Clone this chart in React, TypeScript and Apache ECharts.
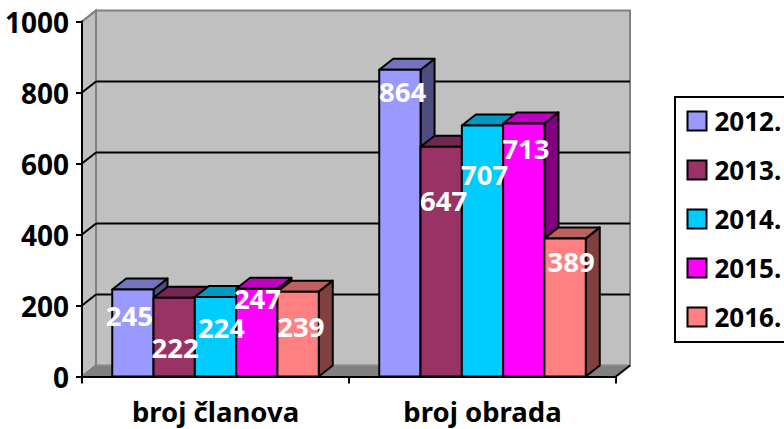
import React, { useEffect, useRef } from "react";
import * as echarts from "echarts";

const categories = ["broj članova", "broj obrada"];
const years = ["2012.", "2013.", "2014.", "2015.", "2016."];
const clanova = [245, 222, 224, 247, 239];
const obrada = [864, 647, 707, 713, 389];
const yTicks = [0, 200, 400, 600, 800, 1000];

const faceColors = ["#9999FF", "#993366", "#00CCFF", "#FF00FF", "#FF8080"];
const topColors = ["#7373BF", "#732650", "#0099BF", "#BF00BF", "#BF6060"];
const sideColors = ["#4D4D80", "#4D1A33", "#006680", "#800080", "#804040"];

// Hand-placed data label nudges, [dx, dy] from the bar's top centre, per year then category.
const labelNudges = [
  [[-3.5, 25.5], [2.8, 22.2]],
  [[1, 50.3], [2.5, 53.2]],
  [[6, 31], [2.2, 48.5]],
  [[0.7, 9.2], [2.2, 25.6]],
  [[2.7, 35.3], [6, 22.6]],
];

const FONT = "'Noto Sans', sans-serif";
const DX = 14;
const DY = -11;
const BAR_RATIO = 0.1547;

function renderBackdrop(params: any, api: any) {
  const r = params.coordSys;
  const v = api.value(1);
  const y = api.coord([0, v])[1];
  const x0 = r.x;
  const x1 = r.x + r.width;
  const bx0 = x0 + DX;
  const bx1 = x1 + DX;
  const children: any[] = [];
  const grey = "#808080";
  if (params.dataIndex === 0) {
    const top = r.y;
    const bot = r.y + r.height;
    children.push(
      { type: "polygon", shape: { points: [[bx0, top + DY], [bx1, top + DY], [bx1, bot + DY], [bx0, bot + DY]] }, style: { fill: "#C0C0C0", stroke: grey, lineWidth: 2 } },
      { type: "polygon", shape: { points: [[x0, top], [bx0, top + DY], [bx0, bot + DY], [x0, bot]] }, style: { fill: "#C0C0C0", stroke: grey, lineWidth: 2 } },
      { type: "polygon", shape: { points: [[x0, bot], [bx0, bot + DY], [bx1, bot + DY], [x1, bot]] }, style: { fill: grey, stroke: "#8C8C8C", lineWidth: 1 } },
      { type: "line", shape: { x1, y1: bot, x2: bx1, y2: bot + DY }, style: { stroke: "#000", lineWidth: 2 } },
    );
  }
  const inner = v > 0 && v < 1000;
  if (inner) {
    children.push({ type: "line", shape: { x1: bx0, y1: y + DY, x2: bx1, y2: y + DY }, style: { stroke: "#000", lineWidth: 2 } });
  }
  children.push({ type: "line", shape: { x1: x0, y1: y, x2: bx0, y2: y + DY }, style: { stroke: inner ? "#000" : grey, lineWidth: 2 } });
  return { type: "group", children };
}

function makeBarRenderer(yearIndex: number) {
  return (params: any, api: any) => {
    const cat = api.value(0);
    const val = api.value(1);
    const band = api.size([1, 0])[0];
    const w = band * BAR_RATIO;
    const [cx, yTop] = api.coord([cat, val]);
    const yBot = api.coord([cat, 0])[1];
    const left = cx + (yearIndex - 2.5) * w;
    const right = left + w;
    const stroke = { stroke: "#000", lineWidth: 2, lineJoin: "round" };
    const nudge = labelNudges[yearIndex][cat];
    return {
      type: "group",
      children: [
        { type: "polygon", shape: { points: [[right, yTop], [right + DX, yTop + DY], [right + DX, yBot + DY], [right, yBot]] }, style: { fill: sideColors[yearIndex], ...stroke } },
        { type: "polygon", shape: { points: [[left, yTop], [left + DX, yTop + DY], [right + DX, yTop + DY], [right, yTop]] }, style: { fill: topColors[yearIndex], ...stroke } },
        { type: "polygon", shape: { points: [[left, yTop], [right, yTop], [right, yBot], [left, yBot]] }, style: { fill: faceColors[yearIndex], ...stroke } },
        {
          type: "text",
          z2: 100,
          style: {
            x: left + w / 2 + nudge[0],
            y: yTop + nudge[1],
            text: String(val),
            fill: "#FFFFFF",
            font: `bold 27.5px ${FONT}`,
            align: "center",
            verticalAlign: "middle",
          },
        },
      ],
    };
  };
}

export default function App() {
  const ref = useRef<HTMLDivElement>(null);
  useEffect(() => {
    document.body.style.margin = "0";
    const chart = echarts.init(ref.current!, undefined, { renderer: "svg" });
    chart.setOption({
      animation: false,
      backgroundColor: "#FFFFFF",
      textStyle: { fontFamily: FONT },
      grid: { left: 82, right: 168, top: 21.5, bottom: 52.5, outerBoundsMode: "none", containLabel: false },
      xAxis: {
        type: "category",
        data: categories,
        boundaryGap: true,
        axisLine: { lineStyle: { color: "#000", width: 2 } },
        axisTick: { show: true, length: 7, lineStyle: { color: "#000", width: 2 } },
        axisLabel: { color: "#000", fontWeight: "bold", fontSize: 27.5, fontFamily: FONT, margin: 21, hideOverlap: false },
      },
      yAxis: {
        type: "value",
        min: 0,
        max: 1000,
        interval: 200,
        axisLine: { show: true, lineStyle: { color: "#000", width: 2 } },
        axisTick: { show: true, length: 6, lineStyle: { color: "#000", width: 2 } },
        splitLine: { show: false },
        axisLabel: { color: "#000", fontWeight: "bold", fontSize: 28, fontFamily: FONT, margin: 13, padding: [0, 0, 3, 0], formatter: (v: number) => String(v) },
      },
      legend: {
        data: years,
        orient: "vertical",
        left: 675,
        top: 97,
        padding: [11, 14, 12, 11.5],
        itemWidth: 19,
        itemHeight: 19,
        itemGap: 23,
        backgroundColor: "#FFFFFF",
        borderColor: "#000",
        borderWidth: 2,
        itemStyle: { borderColor: "#000", borderWidth: 2 },
        textStyle: { color: "#000", fontWeight: "bold", fontSize: 26, lineHeight: 19, fontFamily: FONT, padding: [0, 0, 0, 3] },
        icon: "rect",
        selectedMode: false,
      },
      series: [
        {
          type: "custom",
          name: "backdrop",
          z: -1,
          silent: true,
          clip: false,
          renderItem: renderBackdrop,
          data: yTicks.map((t) => [0, t]),
        },
        ...years.map((year, i) => ({
          type: "custom",
          name: year,
          z: 2,
          silent: true,
          clip: false,
          itemStyle: { color: faceColors[i] },
          renderItem: makeBarRenderer(i),
          data: [[0, clanova[i]], [1, obrada[i]]],
        })),
      ],
    });
    return () => chart.dispose();
  }, []);
  return <div ref={ref} style={{ position: "absolute", left: 0, top: 0, width: 784, height: 429, overflow: "hidden" }} />;
}
